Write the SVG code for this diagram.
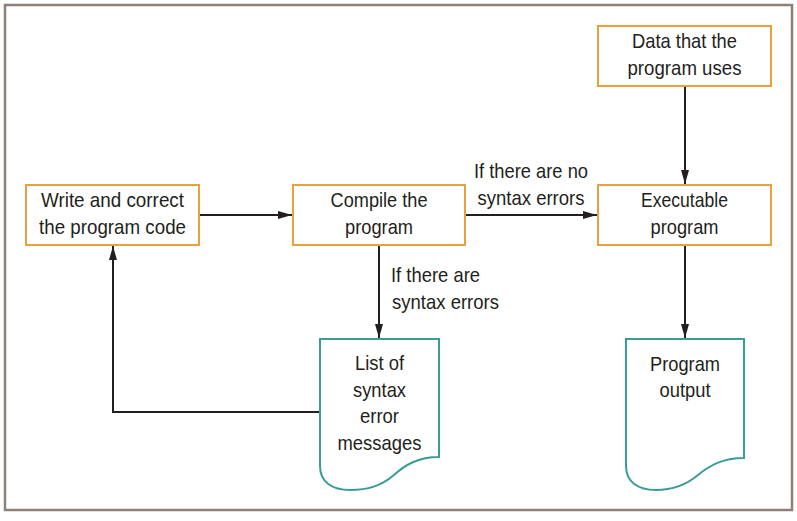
<svg xmlns="http://www.w3.org/2000/svg" width="797" height="521" viewBox="0 0 797 521">
<style>
.frame{fill:#fff;stroke:#8c8079;stroke-width:2.5}
.box{fill:#fff;stroke:#e9a23b;stroke-width:2}
.doc{fill:#fff;stroke:#3a9c98;stroke-width:2}
.t{font-family:"Liberation Sans",Arial,sans-serif;font-size:21px;fill:#231f20;text-anchor:middle}
.l{text-anchor:start}
.c{fill:none;stroke:#231f20;stroke-width:2}
</style>
<defs>
<marker id="ah" viewBox="0 0 14 8" refX="14" refY="4" markerWidth="14" markerHeight="8" markerUnits="userSpaceOnUse" orient="auto">
<path d="M0,0 L14,4 L0,8 Z" fill="#231f20"/>
</marker>
</defs>
<rect class="frame" x="5" y="5" width="787" height="505"/>
<g id="connectors">
<line class="c" x1="199" y1="215" x2="292" y2="215" marker-end="url(#ah)"/>
<line class="c" x1="465" y1="215" x2="597" y2="215" marker-end="url(#ah)"/>
<line class="c" x1="685" y1="86" x2="685" y2="184" marker-end="url(#ah)"/>
<line class="c" x1="685" y1="245" x2="685" y2="338" marker-end="url(#ah)"/>
<line class="c" x1="379" y1="245" x2="379" y2="338" marker-end="url(#ah)"/>
<polyline class="c" points="320,412 113,412 113,246" marker-end="url(#ah)"/>
<text class="t" x="531" y="178" textLength="114" lengthAdjust="spacingAndGlyphs">If there are no</text>
<text class="t" x="531" y="205" textLength="107" lengthAdjust="spacingAndGlyphs">syntax errors</text>
<text class="t l" x="391" y="282" textLength="89" lengthAdjust="spacingAndGlyphs">If there are</text>
<text class="t l" x="392" y="309" textLength="107" lengthAdjust="spacingAndGlyphs">syntax errors</text>
</g>
<g id="write">
<rect class="box" x="26" y="185" width="173" height="60"/>
<text class="t" x="112.5" y="207" textLength="143" lengthAdjust="spacingAndGlyphs">Write and correct</text>
<text class="t" x="112.5" y="234" textLength="147" lengthAdjust="spacingAndGlyphs">the program code</text>
</g>
<g id="compile">
<rect class="box" x="293" y="185" width="172" height="60"/>
<text class="t" x="379" y="207" textLength="97" lengthAdjust="spacingAndGlyphs">Compile the</text>
<text class="t" x="379" y="234" textLength="68" lengthAdjust="spacingAndGlyphs">program</text>
</g>
<g id="executable">
<rect class="box" x="598" y="185" width="173" height="60"/>
<text class="t" x="684.5" y="207" textLength="87" lengthAdjust="spacingAndGlyphs">Executable</text>
<text class="t" x="684.5" y="234" textLength="68" lengthAdjust="spacingAndGlyphs">program</text>
</g>
<g id="data">
<rect class="box" x="598" y="26" width="173" height="60"/>
<text class="t" x="684.5" y="48" textLength="105" lengthAdjust="spacingAndGlyphs">Data that the</text>
<text class="t" x="684.5" y="75" textLength="114" lengthAdjust="spacingAndGlyphs">program uses</text>
</g>
<g id="errors">
<path class="doc" d="M320,339 H439 V457 C418,457 405,465 394,475 C381,486 368,490 350,490 C332,490 320,482 320,466 Z"/>
<text class="t" x="379.5" y="370" textLength="49" lengthAdjust="spacingAndGlyphs">List of</text>
<text class="t" x="379.5" y="397" textLength="53" lengthAdjust="spacingAndGlyphs">syntax</text>
<text class="t" x="379.5" y="423" textLength="39" lengthAdjust="spacingAndGlyphs">error</text>
<text class="t" x="379.5" y="450" textLength="84" lengthAdjust="spacingAndGlyphs">messages</text>
</g>
<g id="output">
<path class="doc" d="M626,339 H744 V458 C722,458 709,466 698,475 C685,486 672,490 656,490 C638,490 626,482 626,466 Z"/>
<text class="t" x="685" y="371" textLength="70" lengthAdjust="spacingAndGlyphs">Program</text>
<text class="t" x="685" y="397" textLength="51" lengthAdjust="spacingAndGlyphs">output</text>
</g>
</svg>
